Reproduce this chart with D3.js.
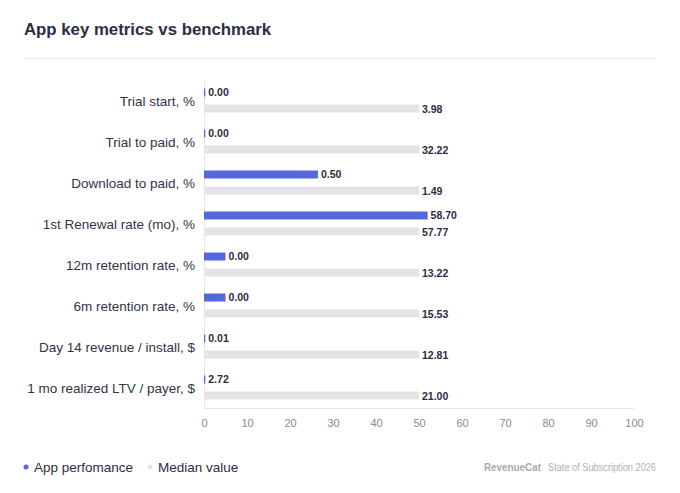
<!DOCTYPE html>
<html>
<head>
<meta charset="utf-8">
<script src="https://cdn.jsdelivr.net/npm/d3@7"></script>
<style>
  body { margin: 0; background: #fff; font-family: "Liberation Sans", Arial, sans-serif; }
</style>
</head>
<body>
<svg id="chart" width="680" height="493"></svg>
<script>
// categories, top to bottom
const metrics = [
  "Trial start, %",
  "Trial to paid, %",
  "Download to paid, %",
  "1st Renewal rate (mo), %",
  "12m retention rate, %",
  "6m retention rate, %",
  "Day 14 revenue / install, $",
  "1 mo realized LTV / payer, $"
];
// bar lengths as drawn on the 0-100 axis
const appLength = [0.3, 0.3, 26.5, 52, 5, 5, 0.3, 0.3];
const medianLength = [50, 50, 50, 50, 50, 50, 50, 50];
// labels printed next to the bars
const appLabel = ["0.00", "0.00", "0.50", "58.70", "0.00", "0.00", "0.01", "2.72"];
const medianLabel = ["3.98", "32.22", "1.49", "57.77", "13.22", "15.53", "12.81", "21.00"];
const xTicks = [0, 10, 20, 30, 40, 50, 60, 70, 80, 90, 100];

const blue = "#5468db", grey = "#e3e3e8", ink = "#2b2b40";
const svg = d3.select("#chart");

// title + divider
svg.append("text").attr("x", 24).attr("y", 35)
  .attr("font-size", 16.8).attr("font-weight", 600).attr("fill", "#2d2d44")
  .text("App key metrics vs benchmark");
svg.append("line").attr("x1", 24).attr("x2", 656).attr("y1", 58.5).attr("y2", 58.5)
  .attr("stroke", "#eeeef0");

const x = d3.scaleLinear().domain([0, 100]).range([204, 634]);
const y = d3.scaleBand().domain(metrics).range([80, 408]);

// axis lines
svg.append("line").attr("x1", 204.5).attr("x2", 204.5).attr("y1", 80).attr("y2", 408)
  .attr("stroke", "#e6e6ea");
svg.append("line").attr("x1", 204).attr("x2", 634).attr("y1", 408.5).attr("y2", 408.5)
  .attr("stroke", "#e6e6ea");

const xAxis = svg.append("g").attr("transform", "translate(0,408)")
  .call(d3.axisBottom(x).tickValues(xTicks).tickSize(0).tickPadding(11));
xAxis.select(".domain").remove();
xAxis.selectAll("text").attr("font-size", 11).attr("fill", "#8a8a96")
  .attr("font-family", "Liberation Sans, Arial, sans-serif");

// category labels
svg.append("g").selectAll("text").data(metrics).join("text")
  .attr("x", 195).attr("y", d => y(d) + y.bandwidth() / 2 + 5)
  .attr("text-anchor", "end").attr("font-size", 13.5).attr("fill", "#33334a")
  .text(d => d);

const barH = 8;
const rows = svg.append("g");
metrics.forEach((m, i) => {
  const c = y(m) + y.bandwidth() / 2;
  rows.append("rect").attr("x", x(0)).attr("y", c - 8 - barH / 2)
    .attr("width", x(appLength[i]) - x(0)).attr("height", barH).attr("fill", blue);
  rows.append("rect").attr("x", x(0)).attr("y", c + 8 - barH / 2)
    .attr("width", x(medianLength[i]) - x(0)).attr("height", barH).attr("fill", grey);
  rows.append("text").attr("x", x(appLength[i]) + 3).attr("y", c - 8 + 3)
    .attr("font-size", 10.5).attr("font-weight", 600).attr("fill", ink).text(appLabel[i]);
  rows.append("text").attr("x", x(medianLength[i]) + 3).attr("y", c + 8 + 4)
    .attr("font-size", 10.5).attr("font-weight", 600).attr("fill", ink).text(medianLabel[i]);
});

// legend
const legend = [["App perfomance", blue, 26], ["Median value", grey, 150]];
legend.forEach(([t, col, lx]) => {
  svg.append("circle").attr("cx", lx).attr("cy", 467).attr("r", 2.5).attr("fill", col);
  svg.append("text").attr("x", lx + 8).attr("y", 472).attr("font-size", 13.5)
    .attr("fill", "#2d2d44").text(t);
});

// footer
svg.append("text").attr("x", 484).attr("y", 471).attr("font-size", 10.5).attr("font-weight", 700)
  .attr("textLength", 57).attr("lengthAdjust", "spacingAndGlyphs")
  .attr("fill", "#a8a8b2").text("RevenueCat");
svg.append("text").attr("x", 548).attr("y", 471)
  .attr("textLength", 108).attr("lengthAdjust", "spacingAndGlyphs")
  .attr("font-size", 10).attr("fill", "#b0b0ba").text("State of Subscription 2026");
</script>
</body>
</html>
